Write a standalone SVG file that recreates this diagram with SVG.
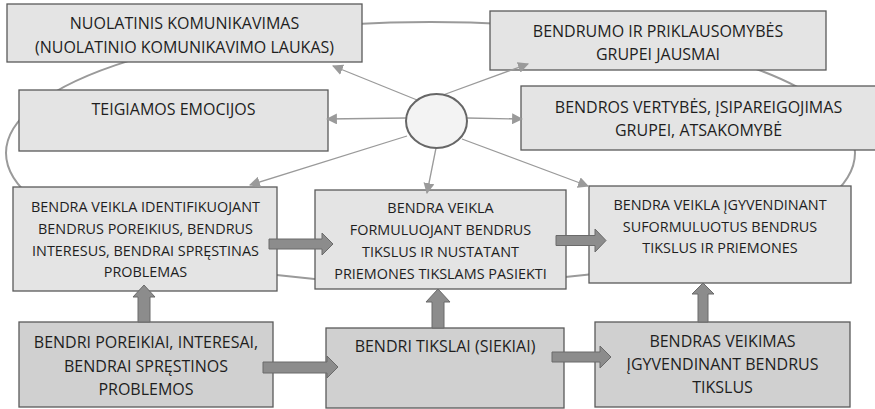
<svg xmlns="http://www.w3.org/2000/svg" width="875" height="409" viewBox="0 0 875 409">
<style>
.box{fill:#e4e4e4;stroke:#5a5a5a;stroke-width:1.3}
.dark{fill:#d0d0d0}
.t{font-family:"Open Sans","Liberation Sans",sans-serif;fill:#1e1e1e;text-anchor:middle}
.big{font-size:16px}
.mid{font-size:14.4px}
.bot{font-size:16px}
.thin{stroke:#9a9a9a;stroke-width:1.3;fill:none;marker-end:url(#ah)}
.blk{fill:#8c8c8c;stroke:#6a6a6a;stroke-width:1}
</style>
<defs>
<marker id="ah" viewBox="0 0 10 10" refX="9" refY="5" markerWidth="11" markerHeight="11" markerUnits="userSpaceOnUse" orient="auto">
<path d="M0,0 L10,5 L0,10 z" fill="#9a9a9a"/>
</marker>
</defs>
<rect width="875" height="409" fill="#ffffff"/>
<g id="ring">
<ellipse cx="430.5" cy="153" rx="424.5" ry="131" fill="none" stroke="#9a9a9a" stroke-width="2"/>
</g>
<g id="n1"><rect class="box" x="7" y="4" width="355" height="58"/>
<text class="t big" x="184.5" y="29">NUOLATINIS KOMUNIKAVIMAS</text>
<text class="t big" x="184.5" y="53">(NUOLATINIO KOMUNIKAVIMO LAUKAS)</text></g>
<g id="n2"><rect class="box" x="490" y="11" width="336" height="59"/>
<text class="t big" x="658" y="37">BENDRUMO IR PRIKLAUSOMYBĖS</text>
<text class="t big" x="658" y="60">GRUPEI JAUSMAI</text></g>
<g id="n3"><rect class="box" x="19" y="90" width="309" height="61"/>
<text class="t big" x="173.5" y="115">TEIGIAMOS EMOCIJOS</text></g>
<g id="n4"><rect class="box" x="521" y="86" width="356" height="64"/>
<text class="t big" x="698.5" y="113">BENDROS VERTYBĖS, ĮSIPAREIGOJIMAS</text>
<text class="t big" x="698.5" y="136">GRUPEI, ATSAKOMYBĖ</text></g>
<g id="n5"><rect class="box" x="13" y="187" width="264" height="104"/>
<text class="t mid" x="145.5" y="212">BENDRA VEIKLA IDENTIFIKUOJANT</text>
<text class="t mid" x="145.5" y="234">BENDRUS POREIKIUS, BENDRUS</text>
<text class="t mid" x="145.5" y="256">INTERESUS, BENDRAI SPRĘSTINAS</text>
<text class="t mid" x="145.5" y="277">PROBLEMAS</text></g>
<g id="n6"><rect class="box" x="315" y="190" width="251" height="99"/>
<text class="t mid" x="440.5" y="213">BENDRA VEIKLA</text>
<text class="t mid" x="440.5" y="235">FORMULUOJANT BENDRUS</text>
<text class="t mid" x="440.5" y="257">TIKSLUS IR NUSTATANT</text>
<text class="t mid" x="440.5" y="279">PRIEMONES TIKSLAMS PASIEKTI</text></g>
<g id="n7"><rect class="box" x="589" y="186" width="262" height="97"/>
<text class="t mid" x="720" y="210">BENDRA VEIKLA ĮGYVENDINANT</text>
<text class="t mid" x="720" y="232">SUFORMULUOTUS BENDRUS</text>
<text class="t mid" x="720" y="253">TIKSLUS IR PRIEMONES</text></g>
<g id="n8"><rect class="box dark" x="19" y="322" width="254" height="85"/>
<text class="t bot" x="146" y="348">BENDRI POREIKIAI, INTERESAI,</text>
<text class="t bot" x="146" y="372">BENDRAI SPRĘSTINOS</text>
<text class="t bot" x="146" y="395">PROBLEMOS</text></g>
<g id="n9"><rect class="box dark" x="326" y="328" width="238" height="80"/>
<text class="t bot" x="445" y="352">BENDRI TIKSLAI (SIEKIAI)</text></g>
<g id="n10"><rect class="box dark" x="595" y="322" width="255" height="85"/>
<text class="t bot" x="722.5" y="347">BENDRAS VEIKIMAS</text>
<text class="t bot" x="722.5" y="370">ĮGYVENDINANT BENDRUS</text>
<text class="t bot" x="722.5" y="393">TIKSLUS</text></g>
<g id="connectors">
<line class="thin" x1="422" y1="102" x2="333" y2="66"/>
<line class="thin" x1="406" y1="118" x2="327" y2="119"/>
<line class="thin" x1="407" y1="136" x2="250" y2="185"/>
<line class="thin" x1="436" y1="148" x2="427" y2="193"/>
<line class="thin" x1="462" y1="139" x2="588" y2="186"/>
<line class="thin" x1="467" y1="118" x2="522" y2="119"/>
<line class="thin" x1="443" y1="95" x2="528" y2="64"/>
<polygon class="blk" points="269,239 322,239 322,233 333,244 322,255 322,249 269,249"/>
<polygon class="blk" points="556,235.5 595,235.5 595,229 606,240.5 595,252 595,245.5 556,245.5"/>
<polygon class="blk" points="263,362 327,362 327,356 338,367 327,378 327,373 263,373"/>
<polygon class="blk" points="552,352 600,352 600,346 611,357 600,368 600,362 552,362"/>
<polygon class="blk" points="138,322 138,297 133,297 144,285 155,297 150,297 150,322"/>
<polygon class="blk" points="432,328 432,302 426,302 438,289 450,302 444,302 444,328"/>
<polygon class="blk" points="698,322 698,294 692,294 703,283 714,294 708,294 708,322"/>
</g>
<g id="center">
<ellipse cx="436.5" cy="121" rx="30.5" ry="27" fill="#f3f3f3" stroke="#666" stroke-width="2"/>
</g>
</svg>
